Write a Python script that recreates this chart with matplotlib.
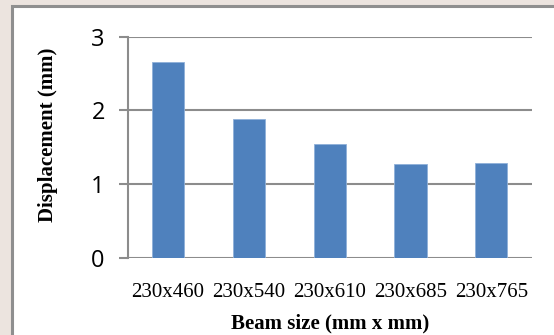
import matplotlib
matplotlib.use("Agg")
import matplotlib.pyplot as plt
from matplotlib.patches import Rectangle

categories = ["230x460", "230x540", "230x610", "230x685", "230x765"]
values = [2.65, 1.88, 1.55, 1.27, 1.29]
yticks = [0, 1, 2, 3]

W, H = 554, 335
fig = plt.figure(figsize=(W/100, H/100), dpi=100)
fig.patch.set_facecolor("#ece4df")

# white chart box with grey frame
box = Rectangle((11.7/W, -0.2), 1.2, 0.2 + 1 - 6.3/H, transform=fig.transFigure,
                facecolor="white", edgecolor="#8f8f8f", linewidth=2.2, zorder=-5)
fig.patches.append(box)

ax = fig.add_axes([127.7/W, 1 - 257.7/H, (531.7-127.7)/W, (257.7-36.7)/H])
ax.set_zorder(2)
ax.set_facecolor("white")
x = list(range(len(categories)))
ax.bar(x, values, width=0.4, color="#4f81bd", edgecolor="#8fb0d9", linewidth=0.6, zorder=3)
ax.set_xlim(-0.5, len(categories) - 0.5)
ax.set_ylim(0, 3)
ax.set_yticks(yticks)
ax.set_yticklabels([str(t) for t in yticks], fontfamily="Open Sans", fontsize=17)
ax.set_xticks(x)
ax.set_xticklabels(categories, fontfamily="Liberation Serif", fontsize=15)
ax.grid(axis="y", color="#8c8c8c", linewidth=1.5, zorder=1)
ax.set_axisbelow(True)
for s in ["top", "right", "bottom"]:
    ax.spines[s].set_visible(False)
ax.spines["left"].set_color("#8c8c8c")
ax.spines["left"].set_linewidth(1.5)
ax.tick_params(axis="y", length=6.5, width=1.5, color="#8c8c8c", pad=10)
ax.tick_params(axis="x", length=0, pad=18.5)

fig.text(330/W, 1 - 323/H, "Beam size (mm x mm)", ha="center", va="center",
         fontfamily="Liberation Serif", fontweight="bold", fontsize=15, zorder=3)
fig.text(47.7/W, 1 - 135/H, "Displacement (mm)", ha="center", va="center", rotation=90,
         fontfamily="Liberation Serif", fontweight="bold", fontsize=15, zorder=3)

fig.savefig("out.png", dpi=100, facecolor=fig.get_facecolor())
